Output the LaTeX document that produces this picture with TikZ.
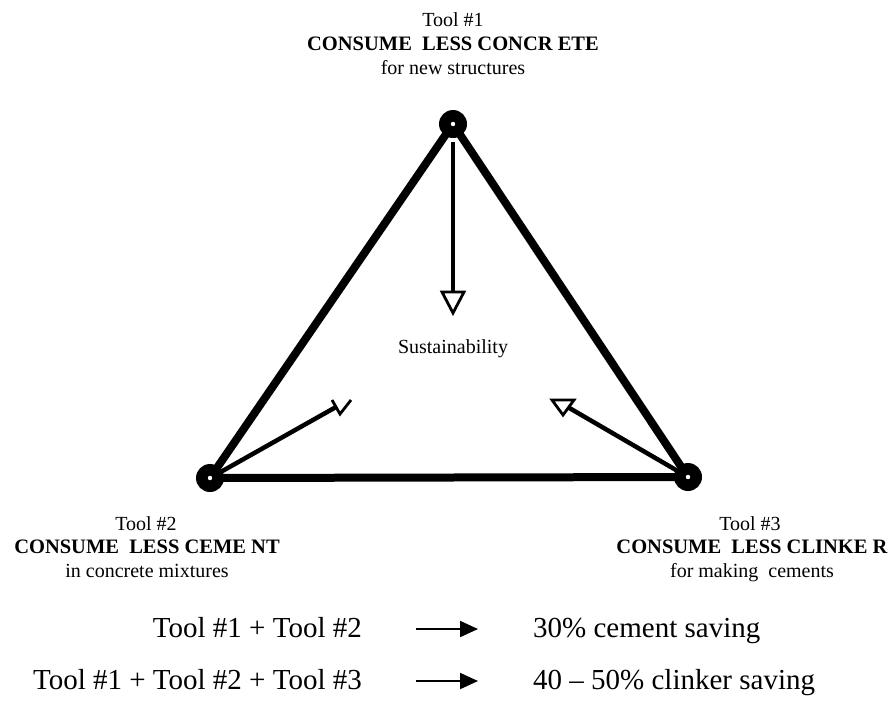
\documentclass[tikz,border=0pt]{standalone}
\usepackage{fontspec}
\setmainfont{Liberation Serif}
\usetikzlibrary{arrows.meta}
\begin{document}
\begin{tikzpicture}[x=1pt,y=-1pt,
  lbl/.style={font=\fontsize{20}{24}\selectfont, inner sep=0pt, anchor=base},
  lblb/.style={font=\fontsize{20.5}{24}\selectfont\bfseries, inner sep=0pt, anchor=base},
  big/.style={font=\fontsize{29}{34}\selectfont, inner sep=0pt},
  vtx/.style={circle, fill=black, minimum size=28pt, inner sep=0pt},
  edge/.style={line width=8pt, line cap=round, line join=round},
  shaft/.style={line width=4.5pt},
  headline/.style={line width=2.8pt, line join=miter},
  res/.style={line width=2pt, -{Triangle[length=18pt,width=16pt]}}
]
\useasboundingbox (0,0) rectangle (893,718);
% vertices
\node[vtx] (v1) at (453,124) {};
\node[vtx] (v2) at (210,478) {};
\node[vtx] (v3) at (688,477) {};
\draw[edge] (v1.center) -- (v2.center) -- (v3.center) -- cycle;
% arrows towards the centre
\coordinate (s1) at (453,142);
\coordinate (h1) at (453,292);
\draw[line width=3.5pt] (s1) -- (h1);
\draw[headline, fill=white] (442,292) -- (464,292) -- (453,313) -- cycle;
\coordinate (h2) at (336,407);
\draw[shaft] (v2.center) -- (h2);
\draw[headline] (332,400) -- (340,414) -- (351,400);
\coordinate (h3) at (568.5,407.5);
\draw[shaft] (v3.center) -- (h3);
\draw[headline, fill=white] (552,400) -- (574,400) -- (563,415) -- cycle;
% white dots
\foreach \v in {v1,v2,v3} \fill[white] (\v) circle (2.2pt);
% labels
\node[lbl] (t1a) at (453,26) {Tool \#1};
\node[lblb] (t1b) at (453,50) {CONSUME\ \ LESS CONCR ETE};
\node[lbl] (t1c) at (453,74) {for new structures};
\node[lbl] (t2a) at (146,530) {Tool \#2};
\node[lblb] (t2b) at (147,553) {CONSUME\ \ LESS CEME NT};
\node[lbl] (t2c) at (147,577) {in concrete mixtures};
\node[lbl] (t3a) at (750,530) {Tool \#3};
\node[lblb] (t3b) at (752,553) {CONSUME\ \ LESS CLINKE R};
\node[lbl] (t3c) at (752,577) {for making\ \ cements};
\node[lbl] (sus) at (453,353) {Sustainability};
% bottom statements
\node[big, anchor=base east] (l1) at (362,637) {Tool \#1 + Tool \#2};
\node[big, anchor=base east] (l2) at (362,689) {Tool \#1 + Tool \#2 + Tool \#3};
\coordinate (a1s) at (416,629);
\coordinate (a1e) at (478,629);
\coordinate (a2s) at (416,681);
\coordinate (a2e) at (478,681);
\draw[res] (a1s) -- (a1e);
\draw[res] (a2s) -- (a2e);
\node[big, anchor=base west] (r1) at (533,637) {30\% cement saving};
\node[big, anchor=base west] (r2) at (533,689) {40 – 50\% clinker saving};
\end{tikzpicture}
\end{document}
